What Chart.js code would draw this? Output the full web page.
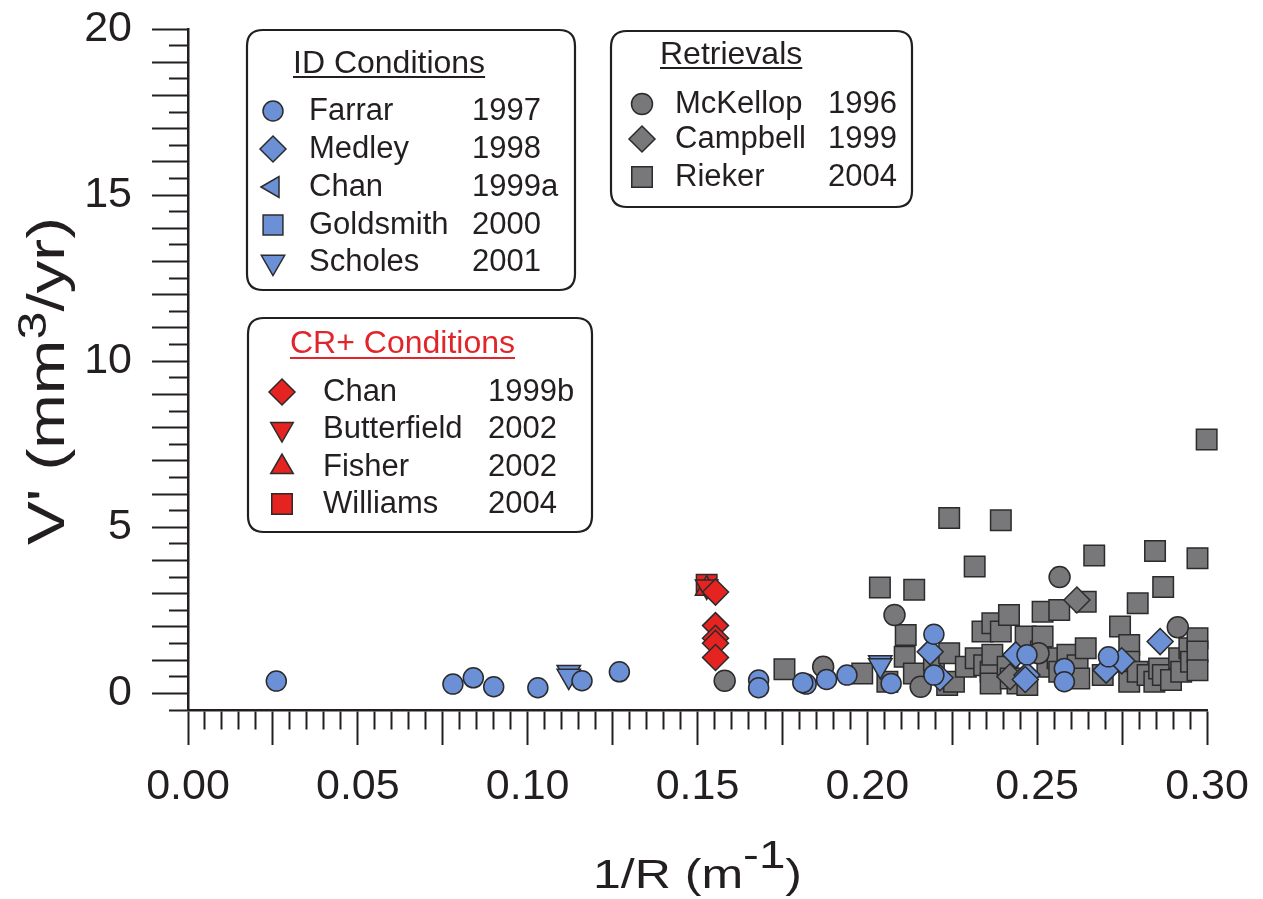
<!DOCTYPE html>
<html>
<head>
<meta charset="utf-8">
<script src="https://cdn.jsdelivr.net/npm/chart.js@4/dist/chart.umd.min.js"></script>
<style>
  html, body { margin: 0; padding: 0; background: #ffffff; }
  #wrap { width: 1263px; height: 899px; }
</style>
</head>
<body>
<div id="wrap"><canvas id="c" width="1263" height="899"></canvas></div>
<script>
// ---------- data ----------
const seriesNames = ['Farrar', 'Medley', 'Chan', 'Goldsmith', 'Scholes',
                     'Chan', 'Butterfield', 'Fisher', 'Williams',
                     'McKellop', 'Campbell', 'Rieker'];
const seriesYears = ['1997', '1998', '1999a', '2000', '2001',
                     '1999b', '2002', '2002', '2004',
                     '1996', '1999', '2004'];
const groupTitles = ['ID Conditions', 'CR+ Conditions', 'Retrievals'];
// axis titles: [normal, superscript, normal]
const xTitleParts = ['1/R (m', '-1', ')'];
const yTitleParts = ["V' (mm", '3', '/yr)'];

// [1/R (m^-1), V' (mm3/yr)]
const farrar1997 = [[0.026,0.37],[0.078,0.28],[0.084,0.47],[0.090,0.20],[0.103,0.17],[0.116,0.38],
  [0.127,0.65],[0.168,0.40],[0.168,0.17],[0.182,0.28],[0.181,0.32],[0.188,0.42],[0.194,0.55],
  [0.207,0.30],[0.2196,1.78],[0.2196,0.55],[0.247,1.16],[0.258,0.75],[0.258,0.35],[0.271,1.10]];
const medley1998 = [[0.2185,1.25],[0.2214,0.47],[0.2437,1.16],[0.247,0.55],[0.2465,0.42],
  [0.2703,0.70],[0.2749,0.98],[0.2862,1.56]];
const chan1999a = [];
const goldsmith2000 = [];
const scholes2001 = [[0.1121,0.64],[0.1121,0.52],[0.2038,0.93],[0.2038,0.84]];
const chan1999b = [[0.1553,3.05],[0.1553,2.04],[0.1553,1.66],[0.1553,1.51],[0.1553,1.08]];
const butterfield2002 = [[0.1527,3.22]];
const fisher2002 = [[0.1527,3.15]];
const williams2004 = [[0.1527,3.27]];
const mckellop1996 = [[0.158,0.38],[0.187,0.80],[0.208,2.36],[0.2157,0.20],[0.2504,1.21],
  [0.2566,3.50],[0.2914,1.99]];
const campbell1999 = [[0.242,0.50],[0.2617,2.81]];
const rieker2004 = [[0.1756,0.73],[0.1985,0.60],[0.2037,3.19],[0.2059,0.35],[0.2113,1.76],
  [0.2138,3.12],[0.2110,1.10],[0.2137,0.60],[0.2196,1.00],[0.2241,5.28],[0.2241,1.21],
  [0.2235,0.25],[0.2255,0.35],[0.2290,0.80],[0.2316,3.82],[0.2319,1.06],[0.2339,1.86],
  [0.2344,0.85],[0.2363,0.65],[0.2363,0.30],[0.2368,2.11],[0.2368,1.16],[0.2393,5.21],
  [0.2393,1.86],[0.2413,0.80],[0.2417,2.36],[0.2422,0.45],[0.2442,0.30],[0.2466,1.71],
  [0.2471,0.25],[0.2511,1.26],[0.2516,2.46],[0.2516,1.71],[0.2530,0.80],[0.2560,1.06],
  [0.2565,2.51],[0.2565,0.65],[0.2589,1.16],[0.2619,0.85],[0.2624,0.45],[0.2643,2.76],
  [0.2643,1.36],[0.2668,4.15],[0.2693,0.55],[0.2744,2.01],[0.2771,1.46],[0.2771,0.95],
  [0.2771,0.35],[0.2796,2.71],[0.2796,0.65],[0.2825,0.55],[0.2845,0.35],[0.2847,4.29],
  [0.2859,0.75],[0.2870,0.55],[0.2871,3.20],[0.2894,0.40],[0.2918,1.06],[0.2924,0.65],
  [0.2948,1.36],[0.2953,0.95],[0.2972,4.07],[0.2972,1.66],[0.2972,1.26],[0.2972,0.70],
  [0.2999,7.64]];

const xMin = 0, xMax = 0.30, yMin = -0.5, yMax = 20;

// ---------- styles ----------
const INK = '#231f20';
const BLUE = '#6c90d6', RED = '#e52421', GREY = '#78787a';
const FONT = '"Liberation Sans", Arial, Helvetica, sans-serif';

function ds(label, arr, fill, style, radius, rotation) {
  return {
    label: label,
    data: arr.map(p => ({ x: p[0], y: p[1] })),
    backgroundColor: fill,
    borderColor: '#2b2b2b',
    borderWidth: 1.5,
    pointStyle: style,
    pointRadius: radius,
    pointHoverRadius: radius,
    pointRotation: rotation || 0,
    showLine: false,
    clip: false
  };
}

const datasets = [
  ds('Farrar 1997', farrar1997, BLUE, 'circle', 10),
  ds('Medley 1998', medley1998, BLUE, 'rectRot', 13),
  ds('Chan 1999a', chan1999a, BLUE, 'triangle', 12, 270),
  ds('Goldsmith 2000', goldsmith2000, BLUE, 'rect', 14),
  ds('Scholes 2001', scholes2001, BLUE, 'triangle', 13.5, 180),
  ds('Chan 1999b', chan1999b, RED, 'rectRot', 13),
  ds('Butterfield 2002', butterfield2002, RED, 'triangle', 13, 180),
  ds('Fisher 2002', fisher2002, RED, 'triangle', 13),
  ds('Williams 2004', williams2004, RED, 'rect', 14.5),
  ds('McKellop 1996', mckellop1996, GREY, 'circle', 10.5),
  ds('Campbell 1999', campbell1999, GREY, 'rectRot', 13),
  ds('Rieker 2004', rieker2004, GREY, 'rect', 14.5)
];

// ---------- legend boxes ----------
const legendGroups = [
  { title: groupTitles[0], color: INK, box: [247, 30, 575, 290], titleX: 293, titleY: 64, ulY: 77,
    items: [0, 1, 2, 3, 4], rows: [111, 149, 187, 225, 262], markerX: 273, nameX: 309, yearX: 472 },
  { title: groupTitles[1], color: '#e0262a', box: [248, 318, 592, 532], titleX: 290, titleY: 344, ulY: 358,
    items: [5, 6, 7, 8], rows: [392, 429, 467, 504], markerX: 282, nameX: 323, yearX: 488 },
  { title: groupTitles[2], color: INK, box: [611, 31, 912, 207], titleX: 660, titleY: 55, ulY: 68,
    items: [9, 10, 11], rows: [104, 139, 177], markerX: 642, nameX: 675, yearX: 828 }
];

function roundRectPath(ctx, x0, y0, x1, y1, r) {
  ctx.beginPath();
  ctx.moveTo(x0 + r, y0);
  ctx.lineTo(x1 - r, y0);
  ctx.quadraticCurveTo(x1, y0, x1, y0 + r);
  ctx.lineTo(x1, y1 - r);
  ctx.quadraticCurveTo(x1, y1, x1 - r, y1);
  ctx.lineTo(x0 + r, y1);
  ctx.quadraticCurveTo(x0, y1, x0, y1 - r);
  ctx.lineTo(x0, y0 + r);
  ctx.quadraticCurveTo(x0, y0, x0 + r, y0);
  ctx.closePath();
}

// draws [normal, superscript, normal] stretched to a target length, centred at (0,0) baseline
function drawTitle(ctx, parts, size, supSize, rise, length) {
  const fMain = size + 'px ' + FONT, fSup = supSize + 'px ' + FONT;
  ctx.font = fMain;
  const w0 = ctx.measureText(parts[0]).width, w2 = ctx.measureText(parts[2]).width;
  ctx.font = fSup;
  const w1 = ctx.measureText(parts[1]).width;
  const total = w0 + w1 + w2;
  ctx.scale(length / total, 1);
  let x = -total / 2;
  ctx.textAlign = 'left';
  ctx.textBaseline = 'alphabetic';
  ctx.font = fMain; ctx.fillText(parts[0], x, 0); x += w0;
  ctx.font = fSup;  ctx.fillText(parts[1], x, -rise); x += w1;
  ctx.font = fMain; ctx.fillText(parts[2], x, 0);
}

const groupLegend = {
  id: 'groupLegend',
  afterDraw(chart) {
    const ctx = chart.ctx;
    const area = chart.chartArea;
    // axis titles
    ctx.save();
    ctx.fillStyle = INK;
    ctx.translate((area.left + area.right) / 2, 888);
    drawTitle(ctx, xTitleParts, 40, 38, 20, 209);
    ctx.restore();
    ctx.save();
    ctx.fillStyle = INK;
    ctx.translate(64, 381);
    ctx.rotate(-Math.PI / 2);
    drawTitle(ctx, yTitleParts, 52, 40, 18, 328);
    ctx.restore();

    legendGroups.forEach(g => {
      ctx.save();
      roundRectPath(ctx, g.box[0], g.box[1], g.box[2], g.box[3], 16);
      ctx.fillStyle = '#ffffff';
      ctx.fill();
      ctx.lineWidth = 2.2;
      ctx.strokeStyle = INK;
      ctx.stroke();

      ctx.font = '32px ' + FONT;
      ctx.textAlign = 'left';
      ctx.textBaseline = 'middle';
      ctx.fillStyle = g.color;
      ctx.fillText(g.title, g.titleX, g.titleY);
      const w = ctx.measureText(g.title).width;
      ctx.beginPath();
      ctx.moveTo(g.titleX, g.ulY);
      ctx.lineTo(g.titleX + w, g.ulY);
      ctx.lineWidth = 2;
      ctx.strokeStyle = g.color;
      ctx.stroke();

      g.items.forEach((i, k) => {
        const d = chart.data.datasets[i];
        const y = g.rows[k];
        ctx.fillStyle = d.backgroundColor;
        ctx.strokeStyle = d.borderColor;
        ctx.lineWidth = d.borderWidth;
        Chart.helpers.drawPoint(ctx, {
          pointStyle: d.pointStyle, radius: d.pointRadius,
          rotation: d.pointRotation, borderWidth: d.borderWidth
        }, g.markerX, y);
        ctx.fillStyle = INK;
        ctx.font = '31px ' + FONT;
        ctx.fillText(seriesNames[i], g.nameX, y);
        ctx.fillText(seriesYears[i], g.yearX, y);
      });
      ctx.restore();
    });
  }
};

function milli(v) { return Math.round(v * 1000); }

new Chart(document.getElementById('c'), {
  type: 'scatter',
  data: { datasets: datasets },
  plugins: [groupLegend],
  options: {
    responsive: false,
    animation: false,
    events: [],
    layout: { padding: { top: 29, right: 56, left: 0, bottom: 0 } },
    plugins: { legend: { display: false }, tooltip: { enabled: false } },
    scales: {
      x: {
        type: 'linear',
        position: 'bottom',
        min: xMin, max: xMax,
        afterFit: s => { s.height = 189; s.paddingLeft = 0; s.paddingRight = 0; },
        border: { display: true, color: INK, width: 2.5 },
        grid: {
          drawOnChartArea: false, drawTicks: true, tickLength: 35,
          tickColor: INK, tickWidth: 2,
          tickBorderDash: c => (c.tick && milli(c.tick.value) % 25 === 0) ? [] : [18, 200]
        },
        ticks: {
          stepSize: 0.005, autoSkip: false, maxRotation: 0, minRotation: 0,
          padding: 16, color: INK, font: { size: 43, family: FONT },
          callback: v => (milli(v) % 50 === 0) ? v.toFixed(2) : ''
        },
        title: { display: false }
      },
      y: {
        type: 'linear',
        position: 'left',
        min: yMin, max: yMax,
        afterFit: s => { s.width = 188; s.paddingTop = 0; s.paddingBottom = 0; },
        border: { display: true, color: INK, width: 2.5 },
        grid: {
          drawOnChartArea: false, drawTicks: true, tickLength: 36,
          tickColor: INK, tickWidth: 2,
          tickBorderDash: c => (c.tick && Math.round(c.tick.value * 2) % 2 === 0) ? [] : [0, 17, 19, 200]
        },
        ticks: {
          stepSize: 0.5, autoSkip: false, padding: 20, color: INK,
          font: { size: 43, family: FONT },
          callback: v => (Math.round(v * 2) % 10 === 0) ? String(Math.round(v)) : ''
        },
        title: { display: false }
      }
    }
  }
});
</script>
</body>
</html>
